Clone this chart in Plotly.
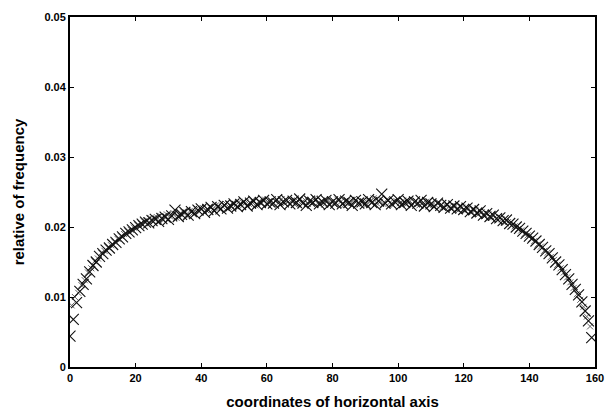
import plotly.graph_objects as go

# Horizontal coordinate of each sampled position (large markers)
coord_major = list(range(0, 160))
freq_major = [
    0.0044, 0.0068, 0.0092, 0.0108, 0.0118, 0.0126, 0.0136, 0.0145, 0.0150, 0.0158,
    0.0162, 0.0167, 0.0170, 0.0175, 0.0178, 0.0183, 0.0186, 0.0191, 0.0193, 0.0196,
    0.0199, 0.0202, 0.0204, 0.0207, 0.0206, 0.0209, 0.0211, 0.0208, 0.0212, 0.0214,
    0.0211, 0.0216, 0.0224, 0.0215, 0.0218, 0.0221, 0.0217, 0.0222, 0.0219, 0.0224,
    0.0226, 0.0221, 0.0225, 0.0228, 0.0223, 0.0229, 0.0226, 0.0231, 0.0227, 0.0230,
    0.0233, 0.0229, 0.0232, 0.0236, 0.0230, 0.0234, 0.0237, 0.0232, 0.0235, 0.0238,
    0.0233, 0.0236, 0.0234, 0.0239, 0.0232, 0.0236, 0.0238, 0.0233, 0.0237, 0.0235,
    0.0240, 0.0234, 0.0231, 0.0237, 0.0235, 0.0239, 0.0233, 0.0236, 0.0238, 0.0232,
    0.0236, 0.0234, 0.0239, 0.0233, 0.0237, 0.0235, 0.0231, 0.0238, 0.0234, 0.0236,
    0.0233, 0.0239, 0.0235, 0.0232, 0.0237, 0.0247, 0.0234, 0.0238, 0.0233, 0.0236,
    0.0239, 0.0232, 0.0235, 0.0237, 0.0231, 0.0236, 0.0234, 0.0238, 0.0230, 0.0235,
    0.0233, 0.0229, 0.0234, 0.0231, 0.0228, 0.0232, 0.0227, 0.0230, 0.0226, 0.0229,
    0.0225, 0.0227, 0.0222, 0.0225, 0.0220, 0.0223, 0.0217, 0.0219, 0.0215, 0.0217,
    0.0212, 0.0213, 0.0209, 0.0210, 0.0205, 0.0204, 0.0200, 0.0198, 0.0194, 0.0191,
    0.0187, 0.0184, 0.0180, 0.0175, 0.0171, 0.0166, 0.0162, 0.0156, 0.0150, 0.0146,
    0.0139, 0.0132, 0.0126, 0.0118, 0.0111, 0.0103, 0.0093, 0.0080, 0.0066, 0.0042,
]

# Intermediate positions (small markers)
coord_minor = [i + 0.5 for i in range(0, 159)]
freq_minor = [
    0.0088, 0.0100, 0.0106, 0.0117, 0.0124, 0.0135, 0.0141, 0.0151, 0.0155, 0.0163,
    0.0166, 0.0171, 0.0174, 0.0179, 0.0183, 0.0187, 0.0190, 0.0194, 0.0196, 0.0199,
    0.0203, 0.0205, 0.0208, 0.0210, 0.0213, 0.0208, 0.0214, 0.0216, 0.0210, 0.0218,
    0.0215, 0.0220, 0.0213, 0.0219, 0.0222, 0.0216, 0.0223, 0.0220, 0.0226, 0.0222,
    0.0227, 0.0224, 0.0229, 0.0225, 0.0231, 0.0227, 0.0229, 0.0233, 0.0228, 0.0234,
    0.0231, 0.0236, 0.0230, 0.0235, 0.0233, 0.0238, 0.0231, 0.0236, 0.0234, 0.0239,
    0.0235, 0.0232, 0.0237, 0.0234, 0.0240, 0.0233, 0.0236, 0.0238, 0.0232, 0.0237,
    0.0235, 0.0239, 0.0233, 0.0236, 0.0241, 0.0234, 0.0237, 0.0232, 0.0238, 0.0235,
    0.0233, 0.0239, 0.0236, 0.0231, 0.0237, 0.0234, 0.0240, 0.0233, 0.0238, 0.0235,
    0.0232, 0.0237, 0.0241, 0.0234, 0.0236, 0.0233, 0.0239, 0.0235, 0.0231, 0.0237,
    0.0234, 0.0238, 0.0232, 0.0236, 0.0233, 0.0237, 0.0231, 0.0234, 0.0236, 0.0230,
    0.0233, 0.0231, 0.0235, 0.0228, 0.0231, 0.0229, 0.0226, 0.0230, 0.0224, 0.0228,
    0.0223, 0.0226, 0.0221, 0.0224, 0.0218, 0.0221, 0.0216, 0.0218, 0.0213, 0.0214,
    0.0210, 0.0211, 0.0206, 0.0207, 0.0202, 0.0201, 0.0197, 0.0195, 0.0190, 0.0188,
    0.0183, 0.0180, 0.0175, 0.0172, 0.0166, 0.0163, 0.0157, 0.0153, 0.0146, 0.0141,
    0.0135, 0.0128, 0.0121, 0.0113, 0.0104, 0.0096, 0.0086, 0.0072, 0.0058,
]

x_ticks = [0, 20, 40, 60, 80, 100, 120, 140, 160]
y_ticks = [0, 0.01, 0.02, 0.03, 0.04, 0.05]
y_tick_text = ["0", "0.01", "0.02", "0.03", "0.04", "0.05"]

font_family = "Liberation Sans, Arial, sans-serif"
title_font = dict(family=font_family, size=15, color="black", weight="bold")

fig = go.Figure()
fig.add_trace(go.Scatter(
    x=coord_minor, y=freq_minor, mode="markers",
    marker=dict(symbol="x-thin", size=6, line=dict(width=1, color="#666666")),
    showlegend=False,
))
fig.add_trace(go.Scatter(
    x=coord_major, y=freq_major, mode="markers",
    marker=dict(symbol="x-thin", size=11, line=dict(width=1.1, color="#111111")),
    showlegend=False,
))

axis_common = dict(
    showgrid=False, zeroline=False,
    showline=True, linecolor="black", linewidth=2, mirror="ticks",
    ticks="inside", ticklen=4, tickwidth=1, tickcolor="black",
    tickfont=dict(family=font_family, size=11, color="black", weight="bold"),
)

fig.update_xaxes(
    range=[0, 160], tickvals=x_ticks,
    title=dict(text="coordinates of horizontal axis", standoff=13, font=title_font),
    **axis_common,
)
fig.update_yaxes(
    range=[0, 0.05], tickvals=y_ticks, ticktext=y_tick_text,
    title=dict(text="relative of frequency", standoff=16, font=title_font),
    **axis_common,
)

fig.update_layout(
    width=615, height=419,
    margin=dict(l=70, r=20, t=11, b=47),
    paper_bgcolor="white", plot_bgcolor="white",
)

fig.write_html("out.html")
